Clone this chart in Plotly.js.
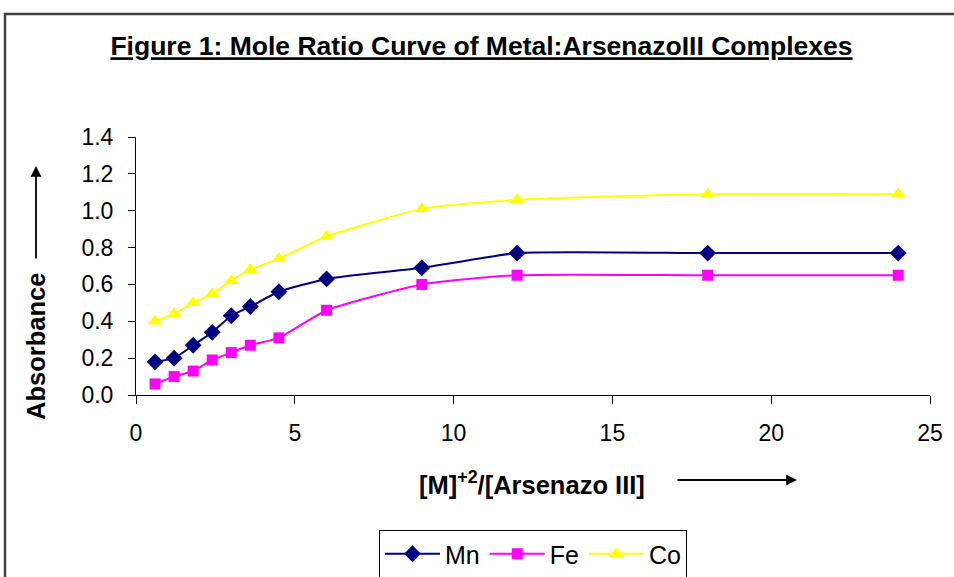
<!DOCTYPE html>
<html>
<head>
<meta charset="utf-8">
<script src="https://cdn.plot.ly/plotly-3.0.1.min.js"></script>
<style>html,body{margin:0;padding:0;background:#fff;}#chart{width:954px;height:577px;}</style>
</head>
<body>
<div id="chart"></div>
<script>
const ratio = [0.6, 1.2, 1.8, 2.4, 3.0, 3.6, 4.5, 6, 9, 12, 18, 24];
const mnAbs = [0.18, 0.20, 0.27, 0.34, 0.43, 0.48, 0.56, 0.63, 0.69, 0.77, 0.77, 0.77];
const feAbs = [0.06, 0.10, 0.13, 0.19, 0.23, 0.27, 0.31, 0.46, 0.60, 0.65, 0.65, 0.65];
const coAbs = [0.40, 0.44, 0.50, 0.55, 0.62, 0.68, 0.74, 0.86, 1.01, 1.06, 1.09, 1.09];
const seriesNames = ['Mn', 'Fe', 'Co'];
const xTicks = [0, 5, 10, 15, 20, 25];
const yTicks = [0, 0.2, 0.4, 0.6, 0.8, 1.0, 1.2, 1.4];

const font = 'Arial, "Liberation Sans", sans-serif';

function tr(name, y, color, symbol, size) {
  return {
    x: ratio, y: y, name: name, type: 'scatter', mode: 'lines+markers',
    line: {color: color, width: 2, shape: 'spline', smoothing: 0.5},
    marker: {color: color, symbol: symbol, size: size, line: {width: 0}}
  };
}

const data = [
  tr(seriesNames[0], mnAbs, '#000080', 'diamond', 13),
  tr(seriesNames[1], feAbs, '#FF00FF', 'square', 11),
  tr(seriesNames[2], coAbs, '#FFFF00', 'triangle-up', 13)
];

const layout = {
  width: 954, height: 577,
  margin: {l: 136, r: 24, t: 137, b: 182, autoexpand: false},
  paper_bgcolor: '#fff', plot_bgcolor: '#fff',
  font: {family: font, color: '#000', size: 23},
  title: {
    text: 'Figure 1: Mole Ratio Curve of Metal:ArsenazoIII Complexes',
    font: {family: font, size: 26.5, weight: 'bold', lineposition: 'under', color: '#000'},
    x: 481.5/954, xanchor: 'center', xref: 'container',
    y: 1 - 46/577, yanchor: 'middle', yref: 'container'
  },
  xaxis: {
    range: [0, 25], tickvals: xTicks, ticktext: xTicks.map(String), automargin: false,
    showgrid: false, zeroline: false, showline: true, linecolor: '#000', linewidth: 1,
    ticks: 'outside', ticklen: 8, tickcolor: '#000', tickfont: {size: 23},
    ticklabelstandoff: 9
  },
  yaxis: {
    range: [0, 1.4], tickvals: yTicks, ticktext: yTicks.map(v => v.toFixed(1)), automargin: false,
    showgrid: false, zeroline: false, showline: true, linecolor: '#000', linewidth: 1,
    ticks: 'outside', ticklen: 7, tickcolor: '#000', tickfont: {size: 23},
    ticklabelstandoff: 10
  },
  showlegend: true,
  legend: {
    orientation: 'h', x: (533-136)/794, xanchor: 'center', y: (395-530)/258, yanchor: 'top',
    bordercolor: '#000', borderwidth: 1, bgcolor: '#fff',
    font: {size: 25}, itemwidth: 55
  },
  annotations: [
    {xref: 'paper', yref: 'paper', x: (532-136)/794, y: (395-483)/258, text: '<b>[M]<sup>+2</sup>/[Arsenazo III]</b>',
     showarrow: false, font: {size: 25.5}, xanchor: 'center', yanchor: 'middle'},
    {xref: 'paper', yref: 'paper', x: (36-136)/794, y: (395-347)/258, text: '<b>Absorbance</b>',
     textangle: -90, showarrow: false, font: {size: 25.5}, xanchor: 'center', yanchor: 'middle'},
    {xref: 'paper', yref: 'paper', x: (36-136)/794, y: (395-166)/258, ax: 0, ay: 94, text: '',
     showarrow: true, arrowhead: 2, arrowsize: 1.2, arrowwidth: 1.8, arrowcolor: '#000'},
    {xref: 'paper', yref: 'paper', x: (797-136)/794, y: (395-480)/258, ax: -121, ay: 0, text: '',
     showarrow: true, arrowhead: 2, arrowsize: 1.2, arrowwidth: 1.8, arrowcolor: '#000'}
  ],
  shapes: [
    {type: 'rect', xref: 'paper', yref: 'paper', x0: (5-136)/794, x1: (960-136)/794,
     y0: (395-590)/258, y1: (395-14)/258, line: {color: '#404040', width: 2.5}, fillcolor: 'rgba(0,0,0,0)'}
  ]
};

Plotly.newPlot('chart', data, layout, {displayModeBar: false, staticPlot: true});
</script>
</body>
</html>
